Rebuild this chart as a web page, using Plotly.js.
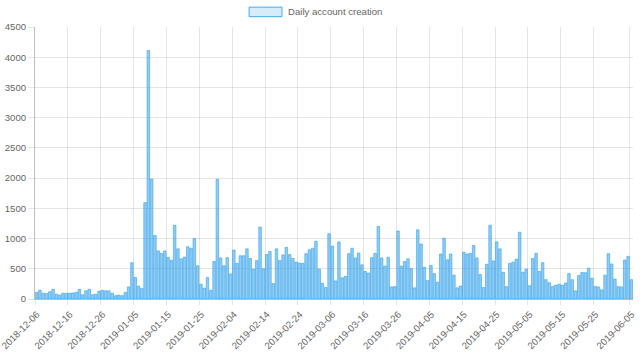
<!DOCTYPE html>
<html>
<head>
<meta charset="utf-8">
<script src="https://cdn.plot.ly/plotly-3.0.1.min.js"></script>
<style>
html,body{margin:0;padding:0;background:#fff;}
#chart{width:640px;height:361px;}
</style>
</head>
<body>
<div id="chart"></div>
<script>
var startDate = "2018-12-06";
var seriesName = "Daily account creation";
var accounts = [
  110,145,95,90,120,160,80,65,95,95,95,100,110,160,70,135,160,70,80,130,145,135,135,
  95,55,65,55,110,200,600,355,215,175,1595,4110,1985,1050,795,755,795,690,640,1220,830,665,695,865,840,1000,550,245,180,355,
  145,620,1980,680,550,685,415,810,590,715,715,830,670,495,635,1190,500,735,785,255,830,635,730,855,735,670,610,595,590,750,815,
  840,955,495,260,190,1080,875,300,945,350,375,750,840,680,760,565,455,430,685,755,1200,680,545,690,200,205,1125,545,620,665,
  505,185,1145,910,525,305,555,420,280,745,1005,650,745,395,185,215,775,745,755,885,680,405,190,575,1220,630,945,
  830,440,205,590,610,660,1105,445,495,220,670,755,455,600,320,270,205,230,245,230,265,420,320,135,390,440,435,510,345,205,200,150,395,750,580,330,205,200,645,705,320
];
var tickDates = ["2018-12-06","2018-12-16","2018-12-26","2019-01-05","2019-01-15","2019-01-25","2019-02-04","2019-02-14","2019-02-24","2019-03-06","2019-03-16","2019-03-26","2019-04-05","2019-04-15","2019-04-25","2019-05-05","2019-05-15","2019-05-25","2019-06-05"];
var yTicks = [0,500,1000,1500,2000,2500,3000,3500,4000,4500];

function pad(n){return n<10?"0"+n:""+n;}
var dates = [];
var d0 = new Date(startDate + "T00:00:00Z");
for (var i = 0; i < accounts.length; i++) {
  var d = new Date(d0.getTime() + i*86400000);
  dates.push(d.getUTCFullYear()+"-"+pad(d.getUTCMonth()+1)+"-"+pad(d.getUTCDate()));
}

var trace = {
  type: "bar",
  x: dates,
  y: accounts,
  name: seriesName,
  xperiod: 86400000,
  xperiodalignment: "middle",
  marker: {color: "rgba(54,162,235,0.55)", line: {color: "rgba(54,162,235,0.75)", width: 0.8}},
  showlegend: false,
  hoverinfo: "x+y"
};

var gridc = "rgba(0,0,0,0.1)";
var fs = 9.6;
var layout = {
  width: 640, height: 361,
  margin: {l: 35, r: 7, t: 27, b: 62, pad: 0},
  paper_bgcolor: "#fff", plot_bgcolor: "#fff",
  bargap: 0.22,
  font: {family: "Liberation Sans, Arial, Helvetica, sans-serif", size: fs, color: "#666"},
  xaxis: {
    type: "date",
    range: ["2018-12-06", "2019-06-06"],
    tickmode: "array",
    tickvals: tickDates,
    ticktext: tickDates,
    tickangle: -45,
    ticklabeloverflow: "allow",
    ticklabelshift: 2,
    showgrid: true, gridcolor: gridc, gridwidth: 1,
    ticks: "outside", ticklen: 5, tickcolor: gridc,
    showline: true, linecolor: "rgba(0,0,0,0.25)", linewidth: 1,
    zeroline: false,
    tickfont: {size: fs, color: "#666"}
  },
  yaxis: {
    range: [0, 4500],
    tickmode: "array",
    tickvals: yTicks,
    ticktext: yTicks.map(String),
    showgrid: true, gridcolor: gridc, gridwidth: 1,
    ticks: "outside", ticklen: 6, tickcolor: gridc,
    showline: true, linecolor: "rgba(0,0,0,0.25)", linewidth: 1,
    zeroline: false,
    tickfont: {size: fs, color: "#666"}
  },
  shapes: [{
    type: "rect", xref: "paper", yref: "paper",
    x0: 0.358, x1: 0.413, y0: 1.038, y1: 1.073,
    fillcolor: "rgba(54,162,235,0.2)",
    line: {color: "rgba(54,162,235,0.9)", width: 1}
  }],
  annotations: [{
    xref: "paper", yref: "paper", x: 0.42, y: 1.056,
    xanchor: "left", yanchor: "middle", showarrow: false,
    text: seriesName, font: {size: fs, color: "#666"}
  }]
};

Plotly.newPlot("chart", [trace], layout, {displayModeBar: false, staticPlot: true});
</script>
</body>
</html>
